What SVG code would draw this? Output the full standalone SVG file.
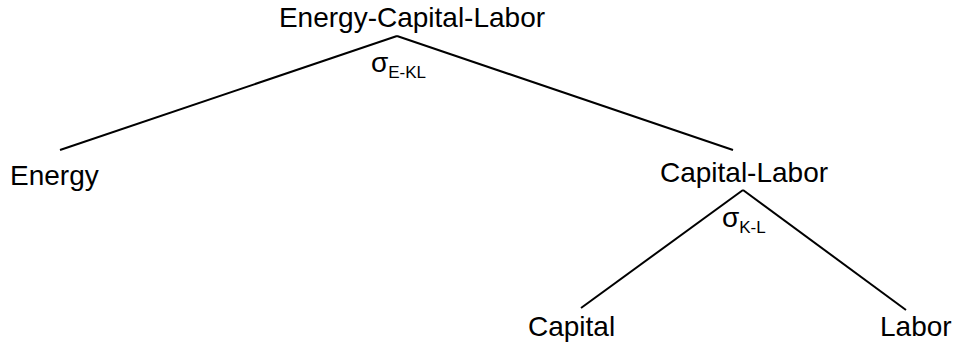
<svg xmlns="http://www.w3.org/2000/svg" width="957" height="345" viewBox="0 0 957 345">
<style>
text{font-family:"Liberation Sans",Arial,sans-serif;font-size:28px;fill:#000}
.sub{font-size:17px}
.edge{stroke:#000;stroke-width:2;fill:none}
</style>
<rect width="957" height="345" fill="#fff"/>
<g id="connectors">
<line class="edge" x1="397" y1="36" x2="60" y2="150"/>
<line class="edge" x1="397" y1="36" x2="733" y2="150"/>
<line class="edge" x1="743" y1="190" x2="581" y2="308"/>
<line class="edge" x1="743" y1="190" x2="906" y2="310"/>
</g>
<g id="node-ecl">
<text x="412" y="27" text-anchor="middle">Energy-Capital-Labor</text>
<text x="371" y="72">σ<tspan class="sub" dy="6">E-KL</tspan></text>
</g>
<g id="node-energy">
<text x="10" y="185">Energy</text>
</g>
<g id="node-cl">
<text x="744" y="182" text-anchor="middle">Capital-Labor</text>
<text x="722" y="227">σ<tspan class="sub" dy="6">K-L</tspan></text>
</g>
<g id="node-capital">
<text x="528" y="336">Capital</text>
</g>
<g id="node-labor">
<text x="880" y="336">Labor</text>
</g>
</svg>
